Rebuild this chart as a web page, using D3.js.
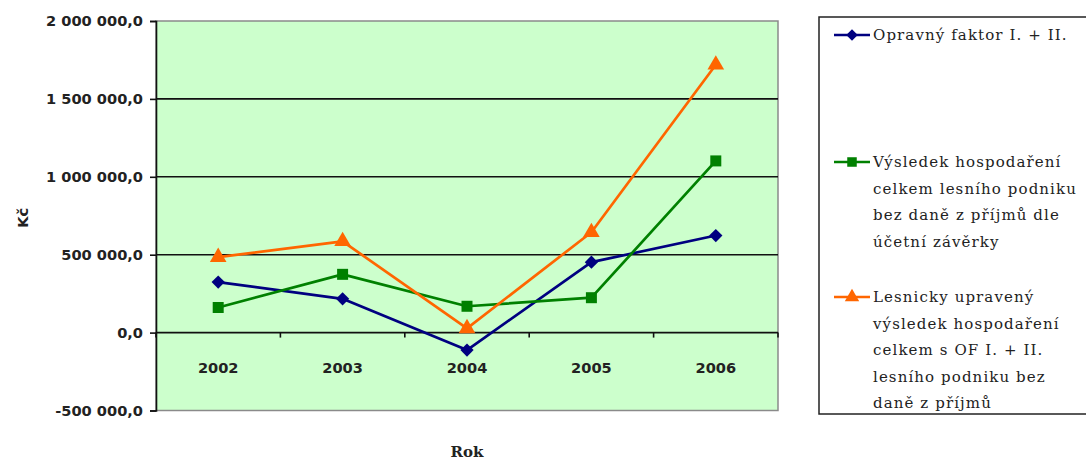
<!DOCTYPE html>
<html>
<head>
<meta charset="utf-8">
<script src="https://cdn.jsdelivr.net/npm/d3@7"></script>
<style>
  html, body { margin: 0; padding: 0; background: #fff; }
  svg { display: block; }
</style>
</head>
<body>
<svg id="chart" width="1086" height="461"></svg>
<script>
// Years on the category axis
const years = ["2002", "2003", "2004", "2005", "2006"];

// Series values in Kč
const opravnyFaktor = [324000, 217000, -112000, 452000, 623000];
const vysledekUcetni = [161000, 374000, 169000, 224000, 1102000];
const vysledekLesnicky = [484000, 586000, 27000, 644000, 1719000];

// Value-axis ticks
const yTicks = [-500000, 0, 500000, 1000000, 1500000, 2000000];

// Legend labels, one entry per series (already split into lines)
const legendLabels = [
  ["Opravný faktor I. + II."],
  ["Výsledek hospodaření", "celkem lesního podniku", "bez daně z příjmů dle", "účetní závěrky"],
  ["Lesnicky upravený", "výsledek hospodaření", "celkem s OF I. + II.", "lesního podniku bez", "daně z příjmů"]
];

const series = [
  { values: opravnyFaktor, color: "#000080", symbol: d3.symbolSquare, rotate: 45, size: 88, label: legendLabels[0] },
  { values: vysledekUcetni, color: "#008000", symbol: d3.symbolSquare, rotate: 0, size: 121, label: legendLabels[1] },
  { values: vysledekLesnicky, color: "#FF6600", symbol: d3.symbolTriangle, rotate: 0, size: 120, label: legendLabels[2] }
];

const svg = d3.select("#chart");
const plot = { left: 156, right: 778, top: 21, bottom: 410.5 };

const x = d3.scaleBand().domain(years).range([plot.left, plot.right]).paddingInner(0).paddingOuter(0);
const y = d3.scaleLinear().domain([-500000, 2000000]).range([plot.bottom, plot.top]);

// number format like "1 500 000,0"
const fmt = v => {
  const s = d3.format(",.1f")(v);
  return s.replace(/,/g, " ").replace(".", ",").replace("−", "-");
};

const labelFont = "DejaVu Sans, sans-serif";

// plot background
svg.append("rect")
  .attr("x", plot.left).attr("y", plot.top)
  .attr("width", plot.right - plot.left).attr("height", plot.bottom - plot.top)
  .attr("fill", "#CCFFCC")
  .attr("stroke", "#8a8a8a").attr("stroke-width", 1.5);

// horizontal gridlines
svg.append("g")
  .selectAll("line")
  .data(yTicks.filter(t => t > -500000 && t < 2000000))
  .join("line")
  .attr("x1", plot.left).attr("x2", plot.right)
  .attr("y1", d => y(d)).attr("y2", d => y(d))
  .attr("stroke", "#111").attr("stroke-width", 1.6);

// value axis
const yAxis = svg.append("g")
  .attr("transform", `translate(${plot.left},0)`)
  .call(d3.axisLeft(y).tickValues(yTicks).tickFormat(fmt).tickSize(6).tickPadding(7));
yAxis.select(".domain").attr("stroke", "#111").attr("stroke-width", 1.6);
yAxis.selectAll(".tick line").attr("stroke", "#111").attr("stroke-width", 1.6);
yAxis.selectAll(".tick text")
  .attr("font-family", labelFont)
  .attr("font-weight", "bold")
  .attr("font-size", "14.6px")
  .attr("fill", "#222");

// category axis sitting on the zero line, ticks between categories
const bounds = years.map(d => x(d)).concat([plot.right]);
const xAxisG = svg.append("g");
xAxisG.selectAll("line.tick")
  .data(bounds)
  .join("line")
  .attr("class", "tick")
  .attr("x1", d => d).attr("x2", d => d)
  .attr("y1", y(0)).attr("y2", y(0) + 5)
  .attr("stroke", "#111").attr("stroke-width", 1.6);
xAxisG.selectAll("text")
  .data(years)
  .join("text")
  .attr("x", d => x(d) + x.bandwidth() / 2)
  .attr("y", y(0) + 40)
  .attr("text-anchor", "middle")
  .attr("font-family", labelFont)
  .attr("font-weight", "bold")
  .attr("font-size", "14.6px")
  .attr("fill", "#222")
  .text(d => d);

// axis titles
svg.append("text")
  .attr("transform", `translate(28, ${(plot.top + plot.bottom) / 2 + 2}) rotate(-90)`)
  .attr("text-anchor", "middle")
  .attr("font-family", labelFont)
  .attr("font-weight", "bold")
  .attr("font-size", "14.6px")
  .attr("fill", "#222")
  .text("Kč");

svg.append("text")
  .attr("x", (plot.left + plot.right) / 2)
  .attr("y", 457)
  .attr("text-anchor", "middle")
  .attr("font-family", "DejaVu Serif, serif")
  .attr("font-weight", "bold")
  .attr("font-size", "15px")
  .attr("fill", "#222")
  .text("Rok");

// lines and markers
const line = d3.line()
  .x((d, i) => x(years[i]) + x.bandwidth() / 2)
  .y(d => y(d));

series.forEach(s => {
  svg.append("path")
    .datum(s.values)
    .attr("d", line)
    .attr("fill", "none")
    .attr("stroke", s.color)
    .attr("stroke-width", 2.7)
    .attr("stroke-linejoin", "round");
});
series.forEach(s => {
  svg.append("g")
    .selectAll("path")
    .data(s.values)
    .join("path")
    .attr("transform", (d, i) => `translate(${x(years[i]) + x.bandwidth() / 2},${y(d)}) rotate(${s.rotate})`)
    .attr("d", d3.symbol().type(s.symbol).size(s.size))
    .attr("fill", s.color);
});

// legend (its right edge runs past the canvas)
const legend = { left: 819, top: 17, right: 1092, bottom: 414 };
svg.append("rect")
  .attr("x", legend.left).attr("y", legend.top)
  .attr("width", legend.right - legend.left).attr("height", legend.bottom - legend.top)
  .attr("fill", "#fff").attr("stroke", "#222").attr("stroke-width", 1.5);

const entryTop = [35, 162, 297];
const lineGap = 26.5;
series.forEach((s, k) => {
  const g = svg.append("g").attr("transform", `translate(0, ${entryTop[k]})`);
  g.append("line")
    .attr("x1", 834).attr("x2", 870).attr("y1", 0).attr("y2", 0)
    .attr("stroke", s.color).attr("stroke-width", 2.7);
  g.append("path")
    .attr("transform", `translate(852,0) rotate(${s.rotate})`)
    .attr("d", d3.symbol().type(s.symbol).size(s.size * 0.75))
    .attr("fill", s.color);
  g.selectAll("text")
    .data(s.label)
    .join("text")
    .attr("x", 873)
    .attr("y", (d, i) => i * lineGap + 5)
    .attr("font-family", "DejaVu Serif, serif")
    .attr("font-size", "15px")
    .attr("letter-spacing", "1.1px")
    .attr("fill", "#222")
    .text(d => d);
});
</script>
</body>
</html>
